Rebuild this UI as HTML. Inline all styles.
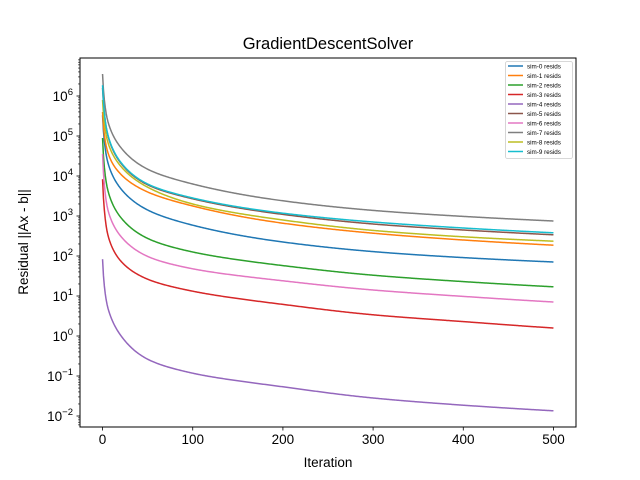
<!DOCTYPE html>
<html><head><meta charset="utf-8"><style>
body{margin:0;background:#fff;}
svg{display:block;font-family:"Liberation Sans","DejaVu Sans",sans-serif;}
</style></head><body>
<svg id="chart" width="640" height="480" viewBox="0 0 640 480" xmlns="http://www.w3.org/2000/svg">
<rect width="640" height="480" fill="#fff"/>
<text x="328" y="49" font-size="16.5" text-anchor="middle">GradientDescentSolver</text>
<text x="328" y="467" font-size="13.5" text-anchor="middle">Iteration</text>
<text transform="translate(28,242) rotate(-90)" font-size="13.5" text-anchor="middle">Residual ||Ax - b||</text>
<g id="grid"></g>
<g id="series"></g>
<rect x="80" y="58" width="496" height="369" fill="none" stroke="#000" stroke-width="1"/>
<g id="legend"></g>
</svg>
<script>
const iters = [0,1,2,5,10,20,50,100,200,300,400,500];
const names = ["sim-0 resids","sim-1 resids","sim-2 resids","sim-3 resids","sim-4 resids","sim-5 resids","sim-6 resids","sim-7 resids","sim-8 resids","sim-9 resids"];
const colors = ["#1f77b4","#ff7f0e","#2ca02c","#d62728","#9467bd","#8c564b","#e377c2","#7f7f7f","#bcbd22","#17becf"];
// log10 residual values read at the iterations above
const sim0 = [5.52,5.12,4.87,4.42,4.07,3.69,3.15,2.77,2.35,2.11,1.96,1.85];
const sim1 = [5.6,5.25,5.03,4.66,4.36,4.05,3.6,3.25,2.82,2.57,2.4,2.27];
const sim2 = [4.95,4.5,4.22,3.73,3.36,2.97,2.44,2.1,1.76,1.52,1.36,1.23];
const sim3 = [3.92,3.45,3.15,2.62,2.25,1.88,1.42,1.12,0.79,0.53,0.36,0.2];
const sim4 = [1.92,1.51,1.25,0.79,0.43,0.02,-0.58,-0.93,-1.27,-1.55,-1.73,-1.87];
const sim5 = [6.2,5.8,5.55,5.1,4.73,4.33,3.78,3.43,3.04,2.8,2.65,2.53];
const sim6 = [4.55,4.08,3.78,3.25,2.88,2.5,1.99,1.68,1.38,1.15,0.99,0.85];
const sim7 = [6.55,6.15,5.9,5.45,5.1,4.72,4.17,3.8,3.38,3.14,2.99,2.875];
const sim8 = [5.9,5.55,5.32,4.92,4.6,4.25,3.72,3.3,2.9,2.64,2.48,2.37];
const sim9 = [6.27,5.85,5.58,5.12,4.75,4.35,3.8,3.45,3.07,2.85,2.7,2.58];
const allSims = [sim0,sim1,sim2,sim3,sim4,sim5,sim6,sim7,sim8,sim9];
const xTicks = [0,100,200,300,400,500];
const yTickExps = [-2,-1,0,1,2,3,4,5,6];

const NS="http://www.w3.org/2000/svg";
const X0=80,X1=576,Y0=58,Y1=427,XMIN=-25,XMAX=525,LMIN=-2.275,LMAX=6.95;
const xs=v=>X0+(v-XMIN)/(XMAX-XMIN)*(X1-X0);
const ys=l=>Y1-(l-LMIN)/(LMAX-LMIN)*(Y1-Y0);
function mk(tag,attrs,parent){const e=document.createElementNS(NS,tag);for(const k in attrs)e.setAttribute(k,attrs[k]);parent.appendChild(e);return e;}
const grid=document.getElementById('grid');
xTicks.forEach(t=>{
  const l=mk('line',{x1:xs(t),x2:xs(t),y1:Y1,y2:Y1+3.5,stroke:'#000','stroke-width':0.8},grid);
  
  
  const tx=mk('text',{x:xs(t),y:Y1+17,'font-size':13.5,'text-anchor':'middle'},grid);
  tx.textContent=t;
  
  
});
yTickExps.forEach(e=>{
  const y=ys(e);
  const l=mk('line',{x1:X0-3.5,x2:X0,y1:y,y2:y,stroke:'#000','stroke-width':0.8},grid);
  
  
  const tx=mk('text',{x:X0-7,y:y+5,'font-size':13.5,'text-anchor':'end'},grid);
  
  
  const b=document.createElementNS(NS,'tspan');b.textContent='10';tx.appendChild(b);
  const s=document.createElementNS(NS,'tspan');s.setAttribute('dy','-6');s.setAttribute('font-size','9.5');s.textContent=(e<0?'\u2212':'')+Math.abs(e);tx.appendChild(s);
});
for(let e=-3;e<=6;e++){for(let m=2;m<=9;m++){const l=e+Math.log10(m);if(l<LMIN||l>LMAX)continue;
  const t=mk('line',{x1:X0-2,x2:X0,y1:ys(l),y2:ys(l),stroke:'#000','stroke-width':0.6},grid);
  
  }}
// monotone cubic (Fritsch-Carlson) interpolation in log(k+1) space
function interp(arr,k){
  const n=iters.length,xk=iters.map(v=>Math.log10(v+1));
  const d=[],m=[];
  for(let i=0;i<n-1;i++)d.push((arr[i+1]-arr[i])/(xk[i+1]-xk[i]));
  m[0]=d[0];m[n-1]=d[n-2];
  for(let i=1;i<n-1;i++){m[i]=(d[i-1]*d[i]<=0)?0:(d[i-1]+d[i])/2;}
  for(let i=0;i<n-1;i++){if(d[i]===0){m[i]=0;m[i+1]=0;continue;}
    const a=m[i]/d[i],b=m[i+1]/d[i],s=a*a+b*b;
    if(s>9){const t=3/Math.sqrt(s);m[i]=t*a*d[i];m[i+1]=t*b*d[i];}}
  const x=Math.log10(k+1);
  let i=0;while(i<n-2&&x>xk[i+1])i++;
  const h=xk[i+1]-xk[i],t=(x-xk[i])/h,t2=t*t,t3=t2*t;
  return (2*t3-3*t2+1)*arr[i]+(t3-2*t2+t)*h*m[i]+(-2*t3+3*t2)*arr[i+1]+(t3-t2)*h*m[i+1];
}
const sg=document.getElementById('series');
allSims.forEach((arr,si)=>{
  let d='';
  for(let k=0;k<=iters[iters.length-1];k++){d+=(k?'L':'M')+xs(k).toFixed(2)+','+ys(interp(arr,k)).toFixed(2);}
  const p=mk('path',{d:d,fill:'none',stroke:colors[si],'stroke-width':1.5},sg);
  
  
});
const lg=document.getElementById('legend');
const box=mk('rect',{x:505.5,y:61.5,width:67,height:97,fill:'#fff',stroke:'#ccc','stroke-width':0.8,rx:2},lg);


names.forEach((n,i)=>{
  const y=66+i*9.5;
  const l=mk('line',{x1:508,x2:523,y1:y,y2:y,stroke:colors[i],'stroke-width':1.5},lg);
  
  
  const t=mk('text',{x:527,y:y+2.3,'font-size':6.3},lg);
  t.textContent=n;
  
  
});
</script>
</body></html>
